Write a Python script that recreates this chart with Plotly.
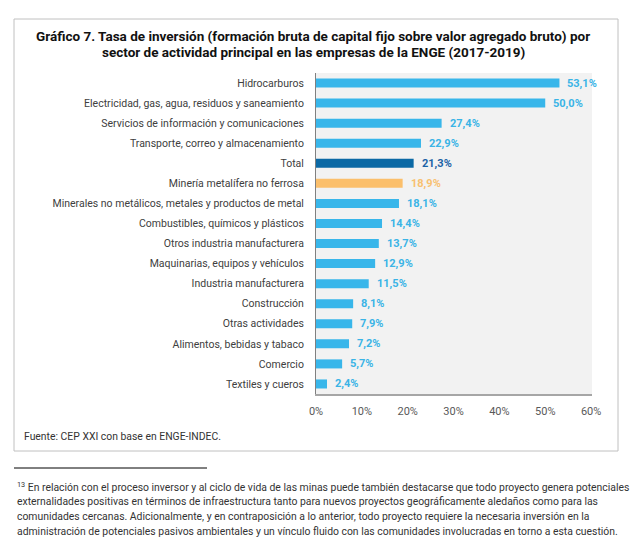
import plotly.graph_objects as go

# Datos del gráfico (de arriba hacia abajo)
sectores = [
    "Hidrocarburos",
    "Electricidad, gas, agua, residuos y saneamiento",
    "Servicios de información y comunicaciones",
    "Transporte, correo y almacenamiento",
    "Total",
    "Minería metalífera no ferrosa",
    "Minerales no metálicos, metales y productos de metal",
    "Combustibles, químicos y plásticos",
    "Otros industria manufacturera",
    "Maquinarias, equipos y vehículos",
    "Industria manufacturera",
    "Construcción",
    "Otras actividades",
    "Alimentos, bebidas y tabaco",
    "Comercio",
    "Textiles y cueros",
]
tasas = [53.1, 50.0, 27.4, 22.9, 21.3, 18.9, 18.1, 14.4, 13.7, 12.9, 11.5, 8.1, 7.9, 7.2, 5.7, 2.4]
ticks_x = [0, 10, 20, 30, 40, 50, 60]
tick_labels = ["0%", "10%", "20%", "30%", "40%", "50%", "60%"]

titulo = ["Gráfico 7. Tasa de inversión (formación bruta de capital fijo sobre valor agregado bruto) por",
          "sector de actividad principal en las empresas de la ENGE (2017-2019)"]
fuente = "Fuente: CEP XXI con base en ENGE-INDEC."
nota = [
    "<sup>13</sup> En relación con el proceso inversor y al ciclo de vida de las minas puede también destacarse que todo proyecto genera potenciales",
    "externalidades positivas en términos de infraestructura tanto para nuevos proyectos geográficamente aledaños como para las",
    "comunidades cercanas. Adicionalmente, y en contraposición a lo anterior, todo proyecto requiere la necesaria inversión en la",
    "administración de potenciales pasivos ambientales y un vínculo fluido con las comunidades involucradas en torno a esta cuestión.",
]

CELESTE = "#38b6ea"
bar_colors, txt_colors = [], []
for s in sectores:
    if s == "Total":
        bar_colors.append("#0b69a5"); txt_colors.append("#1c63a6")
    elif s.startswith("Minería"):
        bar_colors.append("#fbbf6b"); txt_colors.append("#f8c070")
    else:
        bar_colors.append(CELESTE); txt_colors.append("#3ab4e6")

# geometría en pixeles de la ventana (el body tiene 8px de margen)
OFF = 8
W, H = 641 - OFF, 552 - OFF
L, T = 316 - OFF, 73 - OFF
R, B = W - (592 - OFF), H - (394 - OFF)
PW, PH = W - L - R, H - T - B

def px(x):
    return (x - OFF - L) / PW

def py(y):
    return (H - B - (y - OFF)) / PH

fig = go.Figure()
fig.add_trace(go.Bar(
    x=tasas, y=sectores, orientation="h",
    marker=dict(color=bar_colors, line=dict(width=0)),
    hoverinfo="skip",
))

# etiquetas de valor
for s, v, c in zip(sectores, tasas, txt_colors):
    fig.add_annotation(x=v, y=s, xref="x", yref="y", text="<b>" + f"{v:.1f}".replace(".", ",") + "%</b>",
                       showarrow=False, xanchor="left", xshift=6,
                       font=dict(family="Roboto", size=11, color=c))

fig.update_xaxes(range=[0, 60.2], tickvals=ticks_x, ticktext=tick_labels, showgrid=False, zeroline=False,
                 showline=True, linecolor="#a6a6a6", linewidth=1.5, ticks="", ticklabelstandoff=6,
                 tickfont=dict(family="Roboto", size=11, color="#595959"), fixedrange=True)
fig.update_yaxes(categoryorder="array", categoryarray=sectores[::-1], showgrid=False, zeroline=False,
                 showline=True, linecolor="#808080", linewidth=1, ticks="", ticklabelstandoff=9,
                 tickfont=dict(family="Roboto", size=10.5, color="#404040"), fixedrange=True)

# marco, separador y textos
fig.add_shape(type="rect", xref="paper", yref="paper", x0=px(14), x1=px(618), y0=py(451), y1=py(19),
              line=dict(color="#c0c0c0", width=1), layer="below")
fig.add_shape(type="line", xref="paper", yref="paper", x0=px(14), x1=px(207), y0=py(468), y1=py(468),
              line=dict(color="#000000", width=1))
for i, t in enumerate(titulo):
    fig.add_annotation(xref="paper", yref="paper", x=px(313), y=py(36 + 16 * i), text="<b>" + t + "</b>",
                       showarrow=False, xanchor="center", yanchor="middle",
                       font=dict(family="Roboto", size=13.5, color="#111111"))
fig.add_annotation(xref="paper", yref="paper", x=px(22), y=py(437), text=fuente, showarrow=False,
                   xanchor="left", yanchor="middle",
                   font=dict(family="Roboto", size=10.4, color="#333333"))
for i, t in enumerate(nota):
    fig.add_annotation(xref="paper", yref="paper", x=px(15), y=py(487 + 14.7 * i), text=t, showarrow=False,
                       xanchor="left", yanchor="middle",
                       font=dict(family="Roboto", size=10.4, color="#333333"))

fig.update_layout(
    width=W, height=H,
    margin=dict(l=L, r=R, t=T, b=B),
    paper_bgcolor="white", plot_bgcolor="#f2f2f2",
    bargap=0.55, showlegend=False,
)

fig.write_html("out.html")
